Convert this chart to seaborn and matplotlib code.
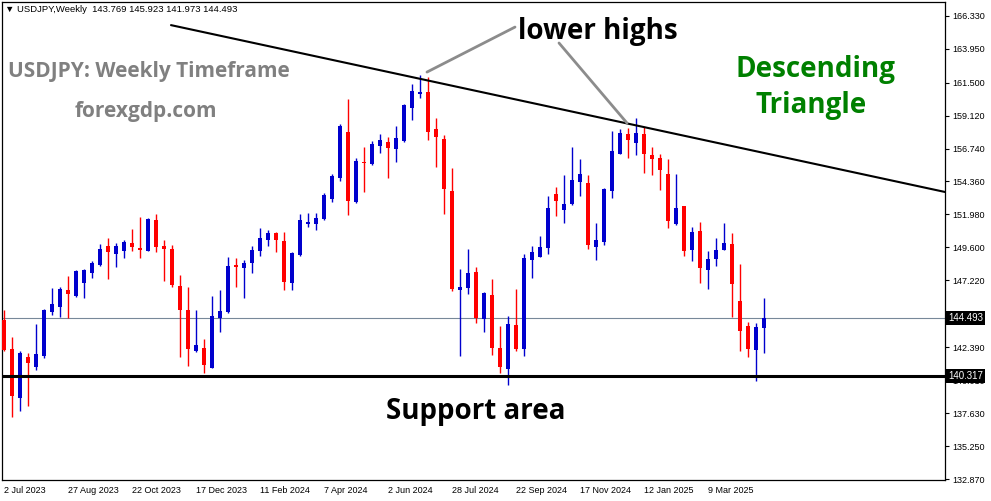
import numpy as np
import pandas as pd
import seaborn as sns
import matplotlib
matplotlib.use("Agg")
import matplotlib.pyplot as plt
import matplotlib.transforms as mtransforms

# weekly USDJPY candles (2 Jul 2023 onwards)
opens = [144.36, 142.26, 138.74, 141.68, 140.98, 141.78, 144.93, 145.29, 146.52, 146.09,
         147.02, 147.75, 148.32, 149.70, 149.14, 149.36, 149.91, 149.55, 149.36, 151.57,
         149.70, 149.48, 146.81, 145.07, 142.14, 142.33, 140.91, 144.52, 144.93, 148.35,
         148.13, 148.49, 149.36, 150.15, 150.64, 150.06, 147.05, 149.05, 151.31, 151.31,
         151.67, 153.11, 154.63, 157.93, 152.87, 155.76, 155.62, 156.94, 157.21, 156.72,
         157.28, 159.68, 160.69, 160.82, 158.14, 157.42, 153.67, 146.54, 146.69, 147.82,
         144.45, 146.16, 142.33, 140.84, 143.99, 142.28, 148.71, 148.92, 149.57, 153.45,
         152.30, 152.73, 154.32, 154.25, 149.62, 149.99, 153.67, 156.34, 157.78, 157.13,
         157.78, 156.27, 156.05, 154.89, 151.28, 152.58, 149.41, 150.78, 147.96, 148.76,
         149.41, 149.84, 145.75, 143.92, 142.19, 143.769]
highs = [145.08, 143.15, 142.12, 141.95, 144.06, 145.15, 146.66, 146.71, 147.53, 147.96,
         148.04, 148.63, 149.86, 150.30, 149.91, 150.13, 150.92, 151.81, 151.74, 152.01,
         150.13, 149.77, 147.60, 146.71, 145.07, 142.98, 146.09, 146.52, 148.92, 148.81,
         148.69, 149.70, 151.02, 150.85, 150.71, 150.71, 149.28, 152.01, 152.08, 152.08,
         153.55, 154.87, 158.51, 160.31, 156.03, 156.85, 157.28, 157.78, 157.57, 158.36,
         159.97, 161.39, 162.04, 161.90, 158.94, 157.71, 155.33, 148.04, 149.48, 148.18,
         146.37, 147.31, 143.92, 144.64, 146.59, 149.12, 149.70, 150.42, 153.31, 153.96,
         154.82, 156.85, 155.98, 154.82, 151.36, 153.88, 158.00, 158.14, 158.22, 158.94,
         158.29, 156.85, 156.34, 155.98, 154.89, 152.58, 151.07, 151.43, 149.34, 150.27,
         151.36, 150.66, 148.42, 144.21, 144.14, 145.923]
lows = [142.12, 137.37, 137.78, 138.16, 140.74, 141.63, 144.71, 144.57, 144.50, 146.04,
        145.94, 147.39, 148.25, 147.31, 148.18, 148.85, 149.36, 148.85, 149.36, 149.29,
        147.19, 146.76, 141.70, 141.05, 142.06, 140.50, 140.91, 143.51, 144.86, 146.76,
        145.96, 147.72, 149.00, 149.72, 149.26, 146.54, 146.54, 149.00, 151.09, 150.87,
        151.60, 152.90, 154.41, 151.96, 152.82, 153.60, 155.55, 156.43, 154.63, 155.78,
        157.21, 158.79, 160.41, 157.35, 155.42, 152.03, 146.47, 141.77, 146.21, 144.16,
        143.51, 141.83, 140.50, 139.66, 142.14, 141.75, 147.41, 148.92, 149.12, 151.86,
        151.36, 152.66, 153.31, 149.48, 148.69, 149.77, 153.16, 156.34, 156.05, 156.27,
        154.97, 154.82, 153.74, 151.00, 151.21, 148.97, 148.61, 147.02, 146.59, 148.25,
        149.41, 144.59, 142.14, 141.70, 139.97, 141.973]
closes = [142.19, 138.89, 141.95, 141.27, 141.90, 145.07, 145.51, 146.59, 146.23, 147.89,
          147.96, 148.47, 149.48, 149.29, 149.70, 149.99, 149.65, 149.41, 151.67, 149.65,
          149.50, 146.88, 145.07, 142.28, 142.53, 141.12, 144.64, 145.00, 148.25, 148.18,
          148.47, 149.41, 150.27, 150.64, 150.15, 147.12, 149.21, 151.57, 151.45, 151.72,
          153.40, 154.75, 158.36, 152.97, 155.83, 155.71, 157.06, 157.35, 156.79, 157.49,
          159.88, 160.89, 160.82, 157.95, 157.59, 153.83, 146.61, 146.71, 147.75, 144.52,
          146.30, 142.35, 140.96, 144.06, 142.26, 148.83, 149.26, 149.62, 152.44, 152.95,
          152.73, 154.46, 154.89, 149.77, 150.13, 153.83, 156.56, 157.86, 157.35, 157.86,
          156.34, 155.98, 155.18, 151.50, 152.44, 149.34, 150.71, 148.11, 148.76, 149.41,
          149.91, 146.97, 143.56, 142.26, 143.85, 144.493]

date_labels = ["2 Jul 2023", "27 Aug 2023", "22 Oct 2023", "17 Dec 2023", "11 Feb 2024",
               "7 Apr 2024", "2 Jun 2024", "28 Jul 2024", "22 Sep 2024", "17 Nov 2024",
               "12 Jan 2025", "9 Mar 2025"]
price_ticks = [132.870, 135.250, 137.630, 140.010, 142.390, 144.770, 147.220, 149.600,
               151.980, 154.360, 156.740, 159.120, 161.500, 163.950, 166.330]

support_level = 140.317
last_close = 144.493
trend_x = [20.875, 117.625]
trend_y = [165.65, 153.60]
pointer1_x = [63.875, 52.875]
pointer1_y = [165.51, 162.26]
pointer2_x = [69.375, 77.875]
pointer2_y = [164.36, 158.58]

df = pd.DataFrame({"open": opens, "high": highs, "low": lows, "close": closes})
df["week"] = np.arange(len(df))
df["color"] = np.where(df["close"] >= df["open"], "#0000CD", "#FF0000")
df["body_lo"] = df[["open", "close"]].min(axis=1)
df["body_h"] = (df["close"] - df["open"]).abs().clip(lower=0.08)

sns.set_theme(style="white")
plt.rcParams["font.family"] = ["Liberation Sans", "DejaVu Sans"]

W, H = 991, 501
fig = plt.figure(figsize=(W / 100, H / 100), dpi=100)
fig.patch.set_facecolor("white")
ax = fig.add_axes([2 / W, 21 / H, 943 / W, 478 / H])
ax.set_facecolor("white")

# candles
ax.vlines(df["week"], df["low"], df["high"], colors=df["color"], lw=1.0, zorder=3)
ax.bar(df["week"], df["body_h"], bottom=df["body_lo"], width=0.62, color=df["color"],
       linewidth=0, zorder=4)

# lines
ax.axhline(last_close, color="#778899", lw=0.8, zorder=2)
ax.axhline(support_level, color="black", lw=2.2, zorder=5)
sns.lineplot(x=trend_x, y=trend_y, ax=ax, color="black", lw=1.5, zorder=5)
sns.lineplot(x=pointer1_x, y=pointer1_y, ax=ax, color="#8c8c8c", lw=2.0, zorder=5, sort=False)
sns.lineplot(x=pointer2_x, y=pointer2_y, ax=ax, color="#8c8c8c", lw=2.0, zorder=5, sort=False)

ax.set_xlim(-0.25, 117.625)
ax.set_ylim(132.80, 167.32)

ax.set_xticks(np.arange(0, len(df), 8)[:len(date_labels)])
ax.set_xticklabels(date_labels, ha="left", fontsize=6.5)
ax.yaxis.tick_right()
ax.set_yticks(price_ticks)
ax.set_yticklabels([f"{p:.3f}" for p in price_ticks], fontsize=6.5)
ax.tick_params(axis="both", direction="out", length=3, width=0.8, color="black",
               labelcolor="black", pad=2)
ax.tick_params(axis="x", pad=1)
for s in ax.spines.values():
    s.set_color("black")
    s.set_linewidth(0.9)
ax.set_xlabel("")
ax.set_ylabel("")
ax.grid(False)

# price boxes on the right scale
trans = mtransforms.blended_transform_factory(ax.transAxes, ax.transData)
for lvl in [last_close, support_level]:
    ax.text(1.003, lvl, f"{lvl:.3f}", transform=trans, ha="left", va="center",
            color="white", fontsize=7, zorder=10, clip_on=False,
            bbox=dict(facecolor="black", edgecolor="none", pad=1.5))

# texts
fig.text(5 / W, 1 - 10 / H, "\u25bc USDJPY,Weekly  143.769 145.923 141.973 144.493",
         fontsize=6.8, va="center", ha="left", color="black")
fig.text(8 / W, 1 - 77 / H, "USDJPY: Weekly Timeframe", fontsize=15, fontweight="bold",
         color="#808080", family="Open Sans", va="baseline", ha="left")
fig.text(146 / W, 1 - 117 / H, "forexgdp.com", fontsize=15, fontweight="bold",
         color="#808080", family="Open Sans", va="baseline", ha="center")
fig.text(598 / W, 1 - 39 / H, "lower highs", fontsize=20, fontweight="bold",
         color="black", family="Open Sans", va="baseline", ha="center")
fig.text(815 / W, 1 - 77 / H, "Descending", fontsize=20, fontweight="bold",
         color="#008000", family="Open Sans", va="baseline", ha="center")
fig.text(811 / W, 1 - 113 / H, "Triangle", fontsize=20, fontweight="bold",
         color="#008000", family="Open Sans", va="baseline", ha="center")
fig.text(476 / W, 1 - 419 / H, "Support area", fontsize=20, fontweight="bold",
         color="black", family="Open Sans", va="baseline", ha="center")

fig.savefig("out.png", dpi=100, facecolor="white")
